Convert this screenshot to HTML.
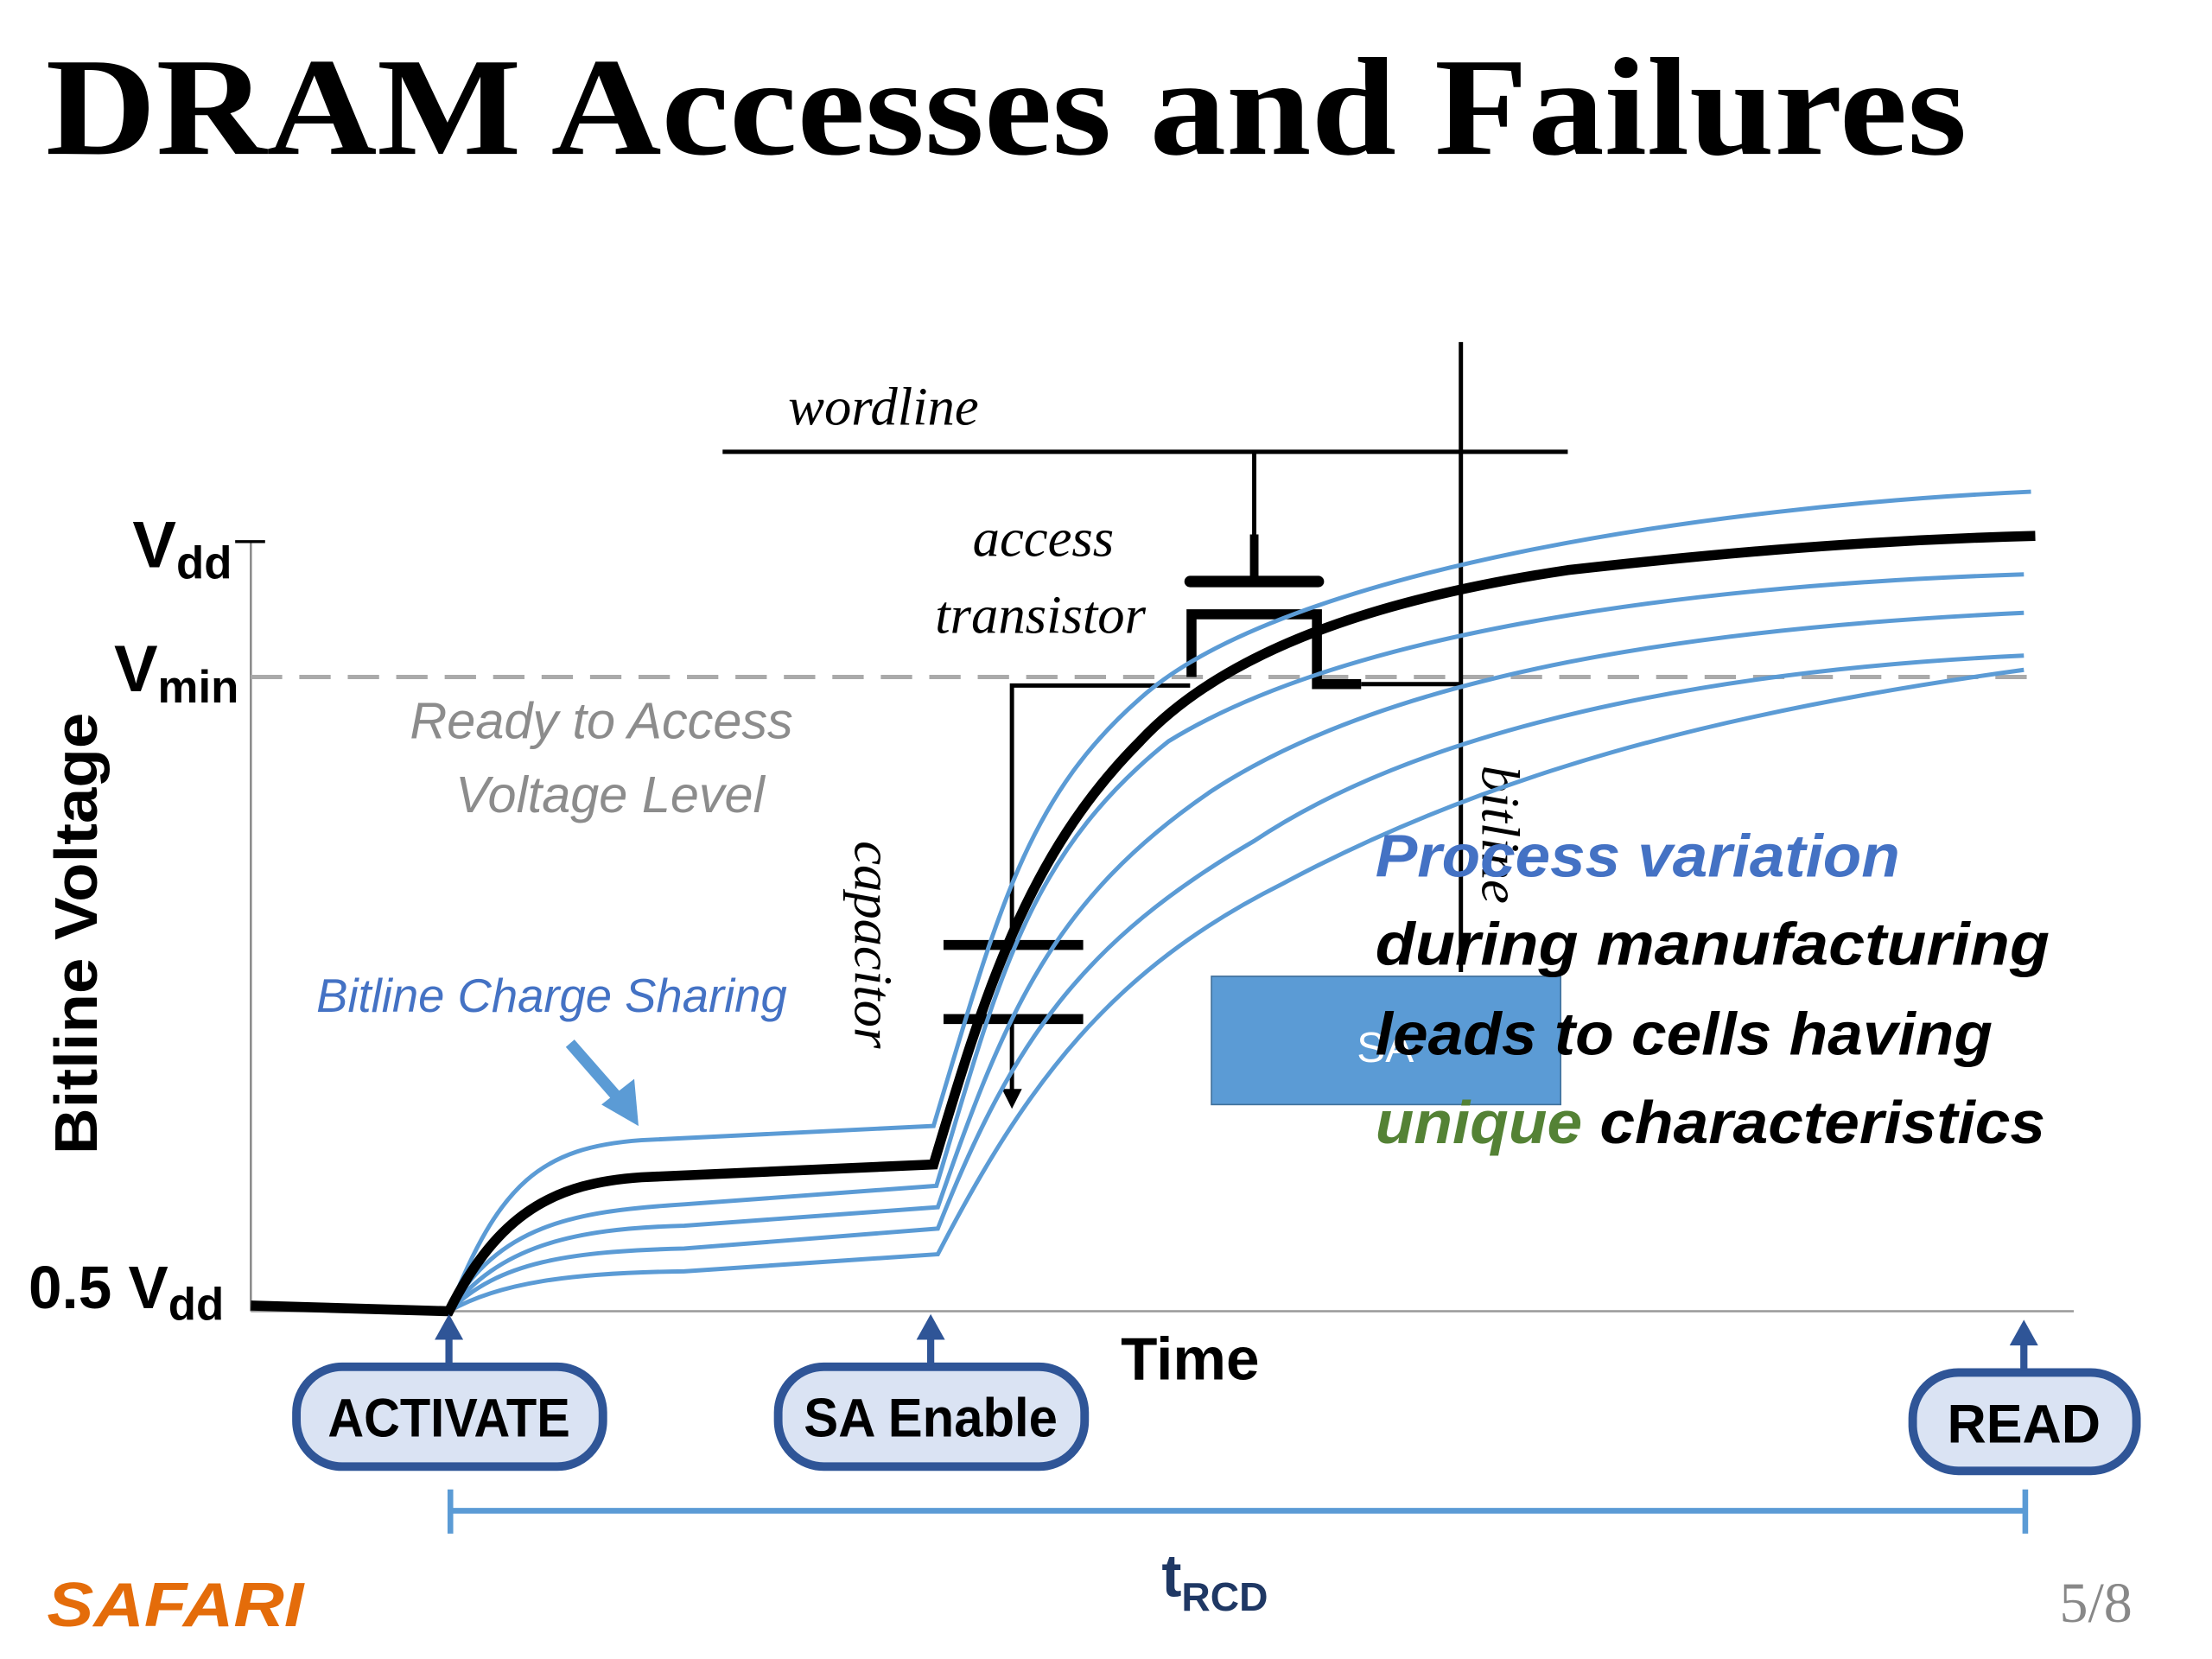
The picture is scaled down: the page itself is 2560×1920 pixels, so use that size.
<!DOCTYPE html>
<html><head><meta charset="utf-8"><style>
html,body{margin:0;padding:0;background:#fff;}
svg{display:block;}
</style></head><body>
<svg width="2560" height="1920" viewBox="0 0 1552 1164" preserveAspectRatio="none" xmlns="http://www.w3.org/2000/svg">
<rect width="1552" height="1164" fill="#fff"/>
<text x="32" y="108" font-family="Liberation Serif, serif" font-weight="bold" font-size="98" textLength="1348" lengthAdjust="spacingAndGlyphs">DRAM Accesses and Failures</text>

<!-- axes -->
<line x1="176" y1="380" x2="176" y2="920" stroke="#888" stroke-width="1.5"/>
<line x1="165" y1="380" x2="186" y2="380" stroke="#000" stroke-width="2"/>
<line x1="176" y1="920" x2="1455" y2="920" stroke="#999" stroke-width="1.5"/>
<line x1="176" y1="475" x2="1425" y2="475" stroke="#aaa" stroke-width="3" stroke-dasharray="22,12"/>

<g font-family="Liberation Sans, sans-serif" font-weight="bold">
<text x="93" y="398" font-size="46">V<tspan font-size="32" dy="8">dd</tspan></text>
<text x="80" y="485" font-size="46">V<tspan font-size="32" dy="8">min</tspan></text>
<text x="20" y="918" font-size="42">0.5 V<tspan font-size="32" dy="8">dd</tspan></text>
<text transform="translate(68,655) rotate(-90)" text-anchor="middle" font-size="42" textLength="310" lengthAdjust="spacingAndGlyphs">Bitline Voltage</text>
</g>

<g font-family="Liberation Sans, sans-serif" font-style="italic" fill="#8c8c8c" font-size="36" text-anchor="middle">
<text x="422" y="518">Ready to Access</text>
<text x="428" y="570">Voltage Level</text>
</g>

<!-- circuit -->
<g font-family="Liberation Serif, serif" font-style="italic" font-size="38">
<text x="553" y="298">wordline</text>
<text x="732" y="390" text-anchor="middle">access</text>
<text x="730" y="444" text-anchor="middle">transistor</text>
<text transform="translate(600,590) rotate(90)">capacitor</text>
<text transform="translate(1040,537) rotate(90)">bitline</text>
</g>
<g stroke="#000" fill="none">
<line x1="507" y1="317" x2="1100" y2="317" stroke-width="3"/>
<line x1="1025" y1="240" x2="1025" y2="682" stroke-width="3"/>
<line x1="880" y1="317" x2="880" y2="405" stroke-width="3"/>
<line x1="880" y1="375" x2="880" y2="405" stroke-width="6"/>
<line x1="835" y1="408" x2="925" y2="408" stroke-width="8" stroke-linecap="round"/>
<path d="M836,475 L836,431 L924,431 L924,480 L955,480" stroke-width="7"/>
<line x1="955" y1="480" x2="1025" y2="480" stroke-width="3"/>
<path d="M835,481 L710,481 L710,663" stroke-width="3"/>
<line x1="662" y1="663" x2="760" y2="663" stroke-width="7"/>
<line x1="662" y1="715" x2="760" y2="715" stroke-width="7"/>
<line x1="710" y1="715" x2="710" y2="768" stroke-width="3"/>
</g>
<path d="M703,764 L717,764 L710,778 Z" fill="#000"/>

<!-- SA box -->
<rect x="850" y="685" width="245" height="90" fill="#5b9bd5" stroke="#41719c" stroke-width="1"/>
<text x="952" y="745" font-family="Liberation Sans, sans-serif" font-size="30" fill="#fff">SA</text>

<!-- curves -->
<g fill="none" stroke="#5b9bd5" stroke-width="3">
<path d="M315,920 C350,830 380,805 450,800 L655,790 C700,640 720,560 800,490 C900,400 1200,355 1425,345"/>
<path d="M315,920 C350,860 400,850 480,845 L657,832 C700,690 720,600 820,520 C950,440 1200,410 1420,403"/>
<path d="M315,920 C350,875 400,862 480,860 L658,847 C705,710 740,630 850,555 C980,470 1200,440 1420,430"/>
<path d="M315,920 C350,885 400,878 480,876 L658,862 C710,730 760,660 880,590 C1000,510 1200,470 1420,460"/>
<path d="M315,920 C350,900 400,893 480,892 L658,880 C720,760 780,680 900,620 C1040,545 1200,500 1420,470"/>
</g>
<path d="M176,916 L315,920 C350,850 390,830 450,826 L655,817 C690,700 720,600 800,520 C870,445 1000,415 1100,400 C1250,383 1350,378 1428,376" fill="none" stroke="#000" stroke-width="7"/>

<!-- charge sharing -->
<text x="222" y="710" font-family="Liberation Sans, sans-serif" font-style="italic" font-size="33" fill="#4472c4">Bitline Charge Sharing</text>
<line x1="400" y1="732" x2="435" y2="772" stroke="#5b9bd5" stroke-width="8"/>
<path d="M448,790 L422,775 L445,757 Z" fill="#5b9bd5"/>

<!-- process variation text -->
<g font-family="Liberation Sans, sans-serif" font-style="italic" font-weight="bold" font-size="42">
<text x="965" y="615" fill="#4472c4" textLength="368" lengthAdjust="spacingAndGlyphs">Process variation</text>
<text x="965" y="677" textLength="473" lengthAdjust="spacingAndGlyphs">during manufacturing</text>
<text x="965" y="740" textLength="433" lengthAdjust="spacingAndGlyphs">leads to cells having</text>
<text x="965" y="802" textLength="470" lengthAdjust="spacingAndGlyphs"><tspan fill="#548235">unique</tspan> characteristics</text>
</g>

<!-- buttons -->
<g stroke="#2f5597" stroke-width="6" fill="#dae3f3">
<rect x="208" y="959" width="215" height="70" rx="32"/>
<rect x="546" y="959" width="215" height="70" rx="32"/>
<rect x="1342" y="963" width="157" height="69" rx="32"/>
</g>
<g font-family="Liberation Sans, sans-serif" font-weight="bold" font-size="38" text-anchor="middle">
<text x="315" y="1008" textLength="170" lengthAdjust="spacingAndGlyphs">ACTIVATE</text>
<text x="653" y="1008" textLength="178" lengthAdjust="spacingAndGlyphs">SA Enable</text>
<text x="1420" y="1012">READ</text>
<text x="835" y="968" font-size="42">Time</text>
</g>
<g stroke="#2f5597" stroke-width="5">
<line x1="315" y1="958" x2="315" y2="935"/>
<line x1="653" y1="958" x2="653" y2="935"/>
<line x1="1420" y1="962" x2="1420" y2="938"/>
</g>
<g fill="#2f5597">
<path d="M305,940 L325,940 L315,922 Z"/>
<path d="M643,940 L663,940 L653,922 Z"/>
<path d="M1410,944 L1430,944 L1420,926 Z"/>
</g>

<!-- tRCD -->
<g stroke="#5b9bd5" stroke-width="4">
<line x1="316" y1="1060" x2="1421" y2="1060"/>
<line x1="316" y1="1045" x2="316" y2="1076"/>
<line x1="1421" y1="1045" x2="1421" y2="1076"/>
</g>
<text x="815" y="1120" font-family="Liberation Sans, sans-serif" font-weight="bold" font-size="42" fill="#1f3864">t<tspan font-size="28" dy="10">RCD</tspan></text>

<text x="33" y="1141" font-family="Liberation Sans, sans-serif" font-weight="bold" font-style="italic" font-size="44" fill="#e46c0a" textLength="180" lengthAdjust="spacingAndGlyphs">SAFARI</text>
<text x="1445" y="1138" font-family="Liberation Serif, serif" font-size="40" fill="#888">5/8</text>
</svg>
</body></html>
